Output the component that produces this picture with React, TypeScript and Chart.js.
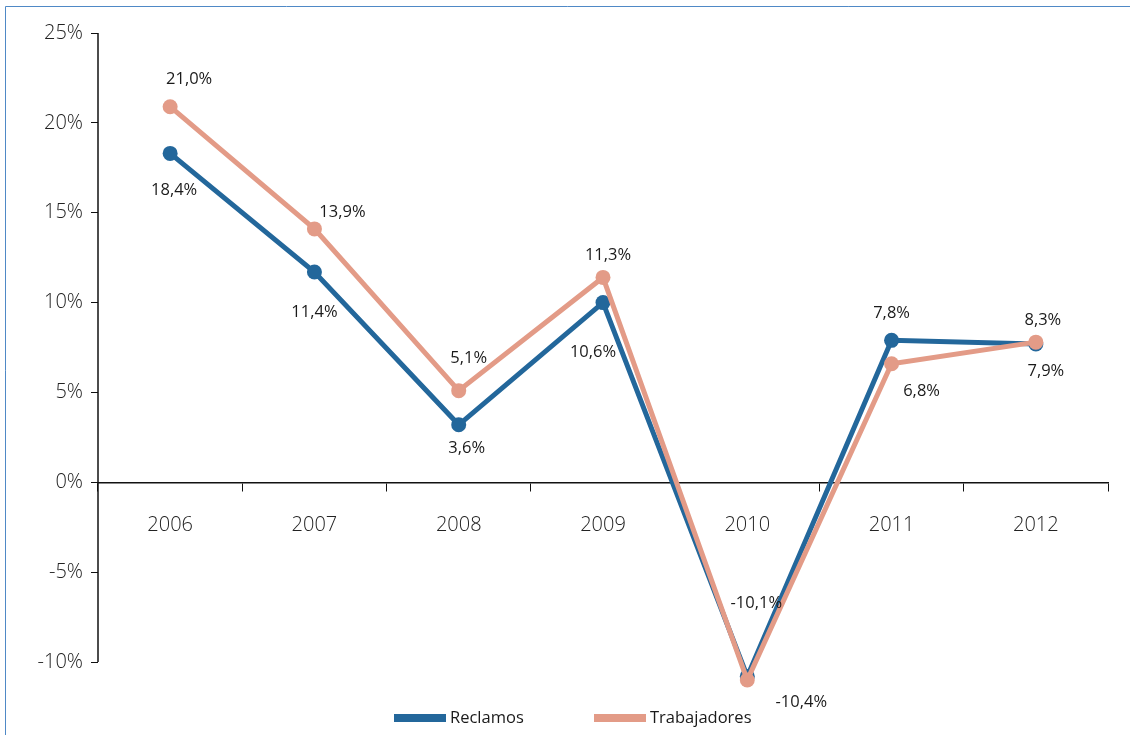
import React, { useEffect, useRef } from "react";
import { Chart, registerables } from "chart.js";

Chart.register(...registerables);

const years = ["2006", "2007", "2008", "2009", "2010", "2011", "2012"];
const reclamos = [18.3, 11.7, 3.2, 10.0, -10.8, 7.9, 7.7];
const trabajadores = [20.9, 14.1, 5.1, 11.4, -11.0, 6.6, 7.8];
const reclamosLabels = ["18,4%", "11,4%", "3,6%", "10,6%", "-10,1%", "7,8%", "7,9%"];
const trabajadoresLabels = ["21,0%", "13,9%", "5,1%", "11,3%", "-10,4%", "6,8%", "8,3%"];
const yTicks = [-10, -5, 0, 5, 10, 15, 20, 25];
const Y_AXIS_MIN = -10;
const Y_AXIS_MAX = 25;

const BLUE = "#23679b";
const PINK = "#e39b87";
const FONT = '"Open Sans", "Noto Sans", sans-serif';

// label placement offsets (style): [dx, dy] relative to each point
const LABEL_OFFSETS: number[][][] = [
  [[4, 37], [0, 40], [8, 23], [-10, 50], [9, -73], [0, -27], [10, 27]],
  [[19, -27], [28, -17], [10, -32], [5, -22], [54, 22], [30, 28], [7, -22]],
];

const framePlugin = {
  id: "frame",
  beforeDraw(chart: any) {
    const ctx = chart.ctx;
    ctx.save();
    ctx.strokeStyle = "#4f89c6";
    ctx.lineWidth = 1;
    ctx.beginPath();
    ctx.moveTo(5.5, chart.height);
    ctx.lineTo(5.5, 6.5);
    ctx.lineTo(chart.width, 6.5);
    ctx.stroke();
    ctx.restore();
  },
};

// y axis line spanning only the labelled range
const yAxisLinePlugin = {
  id: "yAxisLine",
  afterDraw(chart: any) {
    const y = chart.scales.y;
    const ctx = chart.ctx;
    ctx.save();
    ctx.strokeStyle = "#111";
    ctx.lineWidth = 1.5;
    ctx.beginPath();
    ctx.moveTo(chart.chartArea.left, y.getPixelForValue(Y_AXIS_MAX));
    ctx.lineTo(chart.chartArea.left, y.getPixelForValue(Y_AXIS_MIN));
    ctx.stroke();
    ctx.restore();
  },
};

const valueLabelPlugin = {
  id: "valueLabels",
  afterDatasetsDraw(chart: any) {
    const ctx = chart.ctx;
    const texts = [reclamosLabels, trabajadoresLabels];
    ctx.save();
    ctx.font = `16.5px ${FONT}`;
    ctx.fillStyle = "#1a1a1a";
    ctx.textAlign = "center";
    ctx.textBaseline = "middle";
    chart.data.datasets.forEach((_ds: any, di: number) => {
      const meta = chart.getDatasetMeta(di);
      meta.data.forEach((pt: any, i: number) => {
        const off = LABEL_OFFSETS[di][i];
        ctx.fillText(texts[di][i], pt.x + off[0], pt.y + off[1]);
      });
    });
    ctx.restore();
  },
};

const legendPlugin = {
  id: "customLegend",
  afterDraw(chart: any) {
    const ctx = chart.ctx;
    const xs = [394, 594];
    const yc = 718;
    ctx.save();
    ctx.font = `16.5px ${FONT}`;
    ctx.textAlign = "left";
    ctx.textBaseline = "middle";
    chart.data.datasets.forEach((ds: any, i: number) => {
      ctx.fillStyle = ds.borderColor;
      ctx.fillRect(xs[i], yc - 4, 52, 8);
      ctx.fillStyle = "#1a1a1a";
      ctx.fillText(ds.label, xs[i] + 56, yc);
    });
    ctx.restore();
  },
};

export default function App() {
  const ref = useRef<HTMLCanvasElement | null>(null);

  useEffect(() => {
    if (!ref.current) return;
    const chart = new Chart(ref.current, {
      type: "line",
      data: {
        labels: years,
        datasets: [
          {
            label: "Reclamos",
            data: reclamos,
            borderColor: BLUE,
            backgroundColor: BLUE,
            borderWidth: 5,
            pointRadius: 7.5,
            pointBorderWidth: 0,
            pointBackgroundColor: BLUE,
            tension: 0,
            clip: false,
            order: 2,
          },
          {
            label: "Trabajadores",
            data: trabajadores,
            borderColor: PINK,
            backgroundColor: PINK,
            borderWidth: 5,
            pointRadius: 7.5,
            pointBorderWidth: 0,
            pointBackgroundColor: PINK,
            tension: 0,
            clip: false,
            order: 1,
          },
        ],
      },
      options: {
        animation: false,
        responsive: false,
        events: [],
        layout: { padding: { left: 0, right: 22, top: 33, bottom: 46 } },
        plugins: {
          legend: { display: false },
          tooltip: { enabled: false },
        },
        scales: {
          x: {
            type: "category",
            position: { y: 0 } as any,
            offset: true,
            grid: {
              offset: true,
              drawOnChartArea: false,
              drawTicks: true,
              tickLength: 8,
              color: "#111",
              lineWidth: 1,
            },
            border: { display: true, color: "#111", width: 1.5 },
            ticks: {
              padding: 23,
              color: "#222",
              font: { family: FONT, size: 20, weight: "300" as any },
            },
          },
          y: {
            min: -11.5,
            max: Y_AXIS_MAX,
            afterFit: (scale: any) => {
              scale.width = 98;
            },
            afterBuildTicks: (scale: any) => {
              scale.ticks = yTicks.map((v) => ({ value: v }));
            },
            grid: {
              drawOnChartArea: false,
              drawTicks: true,
              tickLength: 7,
              color: "#111",
              lineWidth: 1,
            },
            border: { display: false },
            ticks: {
              padding: 8,
              color: "#222",
              font: { family: FONT, size: 20, weight: "300" as any },
              callback: (v: any) => `${v}%`,
            },
          },
        },
      },
      plugins: [framePlugin, yAxisLinePlugin, valueLabelPlugin, legendPlugin],
    });
    return () => chart.destroy();
  }, []);

  return (
    <div style={{ position: "absolute", left: 0, top: 0, width: 1130, height: 735, background: "#fff" }}>
      <canvas ref={ref} width={1130} height={735} style={{ display: "block" }} />
    </div>
  );
}
